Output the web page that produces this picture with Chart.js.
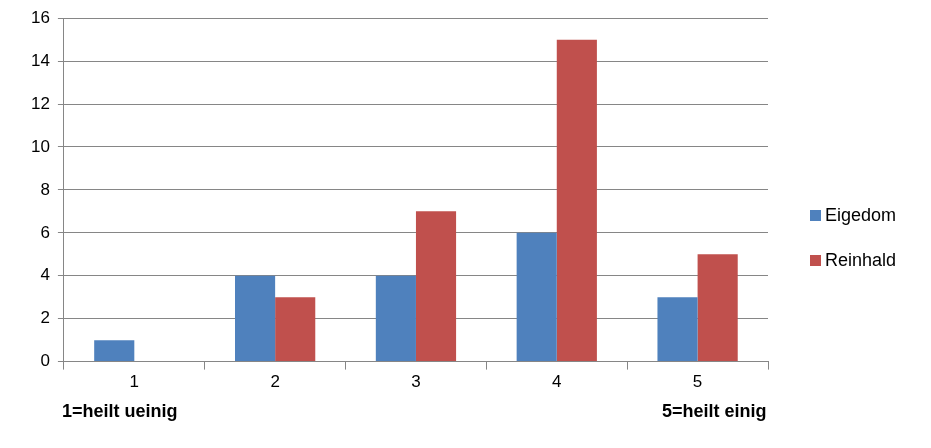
<!DOCTYPE html>
<html>
<head>
<meta charset="utf-8">
<script src="https://cdn.jsdelivr.net/npm/chart.js@4"></script>
<style>
  body { margin: 0; background: #fff; font-family: "Liberation Sans", Arial, sans-serif; }
  #wrap { position: relative; width: 931px; height: 448px; }
  .note { position: absolute; top: 401px; font-weight: bold; font-size: 18px; color: #000; }
  #legend { position: absolute; left: 810px; top: 201px; font-size: 18px; }
  #legend div { display: flex; align-items: center; height: 28px; margin-bottom: 17px; }
  #legend span.box { width: 11px; height: 11px; margin-right: 4px; display: inline-block; }
</style>
</head>
<body>
<div id="wrap">
  <canvas id="chart" width="931" height="448"></canvas>
  <div id="legend"></div>
  <div class="note" style="left:62px">1=heilt ueinig</div>
  <div class="note" style="left:662px">5=heilt einig</div>
</div>
<script>
const categories = ["1", "2", "3", "4", "5"];
const eigedom = [1, 4, 4, 6, 3];
const reinhald = [0, 3, 7, 15, 5];
const seriesNames = ["Eigedom", "Reinhald"];
const colours = ["#4F81BD", "#C0504D"];

const legend = document.getElementById("legend");
seriesNames.forEach((name, i) => {
    legend.innerHTML += `<div><span class="box" style="background:${colours[i]}"></span>${name}</div>`;
});

new Chart(document.getElementById("chart"), {
    type: "bar",
    data: {
        labels: categories,
        datasets: [
            { label: seriesNames[0], data: eigedom, backgroundColor: colours[0] },
            { label: seriesNames[1], data: reinhald, backgroundColor: colours[1] }
        ]
    },
    options: {
        responsive: false,
        animation: false,
        layout: { padding: { top: 12, right: 163, bottom: 52, left: 23 } },
        plugins: { legend: { display: false }, tooltip: { enabled: false } },
        datasets: { bar: { categoryPercentage: 0.57, barPercentage: 1 } },
        scales: {
            x: {
                grid: { display: true, drawOnChartArea: false, offset: true, color: "#868686", tickLength: 8 },
                border: { color: "#868686" },
                ticks: { color: "#000", font: { size: 17, family: "Liberation Sans" } }
            },
            y: {
                min: 0, max: 16,
                ticks: { stepSize: 2, color: "#000", font: { size: 17, family: "Liberation Sans" }, padding: 8 },
                grid: { color: "#868686", tickLength: 6 },
                border: { color: "#868686" }
            }
        }
    }
});
</script>
</body>
</html>
